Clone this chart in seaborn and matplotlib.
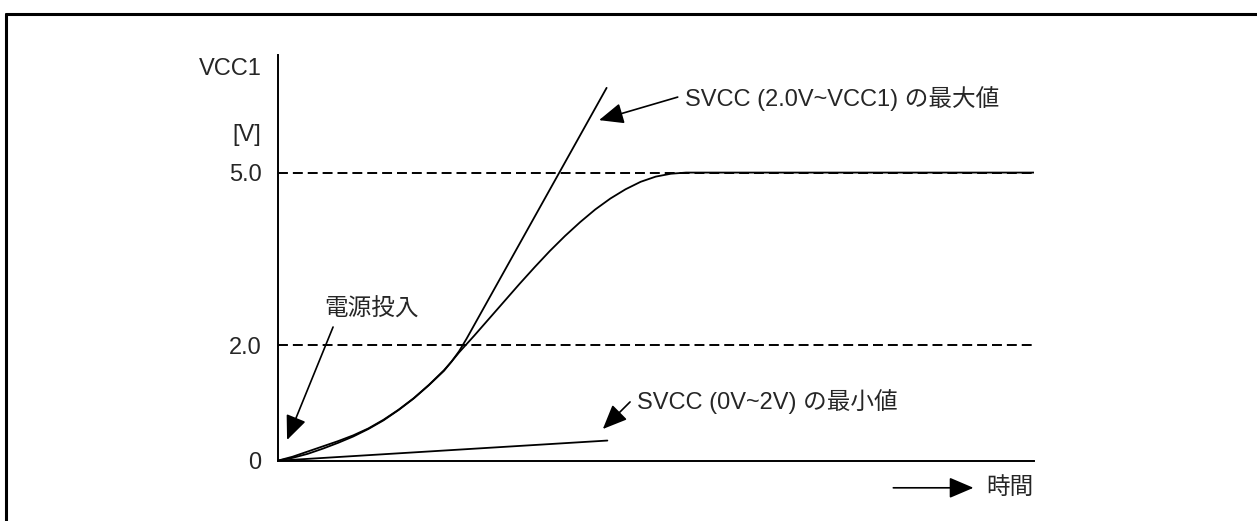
import matplotlib
matplotlib.use("Agg")
import matplotlib.pyplot as plt
from matplotlib.lines import Line2D
import seaborn as sns

# supply voltage curves (time in arbitrary units, volts)
t_vcc = [0, 2, 4, 6, 8, 10, 12, 14, 16, 18, 20, 22, 24, 26, 28, 30, 32, 34,
         36, 38, 40, 42, 44, 46, 48, 50, 52, 54, 100]
v_vcc = [0, 0.05, 0.12, 0.21, 0.31, 0.42, 0.55, 0.70, 0.88, 1.08, 1.31, 1.56,
         1.88, 2.17, 2.47, 2.77, 3.07, 3.36, 3.64, 3.90, 4.14, 4.36, 4.55,
         4.71, 4.84, 4.93, 4.98, 5.0, 5.0]

t_max = [0, 2, 4, 6, 8, 10, 12, 14, 16, 18, 20, 22, 23, 24, 25, 43.5]
v_max = [0, 0.07, 0.16, 0.25, 0.34, 0.44, 0.56, 0.71, 0.885, 1.085, 1.315,
         1.57, 1.72, 1.90, 2.12, 6.47]

t_min = [0, 43.6]
v_min = [0, 0.35]

ref_levels = [2.0, 5.0]
tick_vals = [0, 2.0, 5.0, 5.69, 6.84]
tick_labels = ["0", "2.0", "5.0", "[V]", "VCC1"]

sns.set_style("white")
plt.rcParams["font.family"] = ["Liberation Sans", "Noto Sans CJK JP", "DejaVu Sans"]
fs = 17

fig = plt.figure(figsize=(12.57, 5.21), dpi=100)
ax = fig.add_axes([0.2208, 0.1157, 0.6018, 0.7787])

for lvl in ref_levels:
    ax.axhline(lvl, color="black", lw=1.4, ls=(0, (5.1, 2.55)))

sns.lineplot(x=t_vcc, y=v_vcc, ax=ax, color="black", lw=1.3, sort=False)
sns.lineplot(x=t_max, y=v_max, ax=ax, color="black", lw=1.3, sort=False)
sns.lineplot(x=t_min, y=v_min, ax=ax, color="black", lw=1.3, sort=False)

ax.set_xlim(0, 100)
ax.set_ylim(0, 7.04)
ax.set_xticks([])
ax.set_yticks(tick_vals)
ax.set_yticklabels(tick_labels, fontsize=fs)
ax.tick_params(axis="y", length=0, pad=11.5)
for s in ["top", "right"]:
    ax.spines[s].set_visible(False)
for s in ["left", "bottom"]:
    ax.spines[s].set_color("black")
    ax.spines[s].set_linewidth(1.4)

arrow = dict(arrowstyle="-|>,head_length=0.75,head_width=0.32", color="black",
             lw=1.2, mutation_scale=20, shrinkA=0, shrinkB=0)

# labels with pointers
ax.text(12.4, 2.62, "電源投入", fontsize=fs, ha="center", va="center")
ax.annotate("", xy=(1.26, 0.36), xytext=(7.34, 2.32), arrowprops=arrow)

ax.text(53.9, 6.29, "SVCC (2.0V~VCC1) の最大値", fontsize=fs, ha="left", va="center")
ax.annotate("", xy=(42.5, 5.91), xytext=(52.9, 6.31), arrowprops=arrow)

ax.text(47.5, 1.02, "SVCC (0V~2V) の最小値", fontsize=fs, ha="left", va="center")
ax.annotate("", xy=(43.0, 0.55), xytext=(46.6, 1.02), arrowprops=arrow)

ax.text(93.66, -0.47, "時間", fontsize=fs, ha="left", va="center", clip_on=False)
ax.annotate("", xy=(92.0, -0.47), xytext=(81.4, -0.47), arrowprops=arrow,
            annotation_clip=False)

# page frame (top and left edges)
fig.add_artist(Line2D([0.0049, 1.0], [0.9722, 0.9722], color="black", lw=2.2))
fig.add_artist(Line2D([0.0049, 0.0049], [0.0, 0.9722], color="black", lw=2.2))

fig.savefig("out.png", dpi=100, facecolor="white")
